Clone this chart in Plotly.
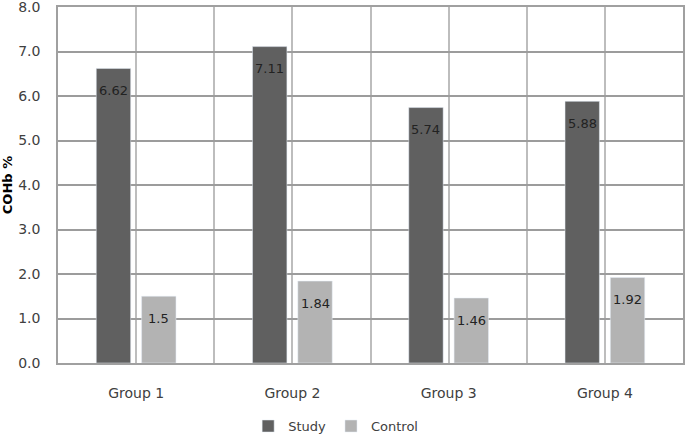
import plotly.graph_objects as go

groups = ["Group 1", "Group 2", "Group 3", "Group 4"]
study = [6.62, 7.11, 5.74, 5.88]
control = [1.5, 1.84, 1.46, 1.92]

bar_w = 0.22
gap = 0.035
pos = list(range(len(groups)))

fig = go.Figure()
fig.add_trace(go.Bar(x=pos, y=study, name="Study", marker_color="#606060",
                     width=bar_w, offset=-(bar_w + gap)))
fig.add_trace(go.Bar(x=pos, y=control, name="Control", marker_color="#b3b3b3",
                     width=bar_w, offset=gap))

# value labels, sitting a little below the top of each bar
for vals, off in [(study, -(bar_w + gap)), (control, gap)]:
    for i, v in enumerate(vals):
        fig.add_annotation(x=i + off + bar_w / 2, y=v, text=str(v), showarrow=False,
                           yshift=-22, font=dict(family="DejaVu Sans", size=13, color="#222222"))

fig.update_layout(
    width=685, height=437,
    margin=dict(l=58, r=2, t=7, b=74, autoexpand=False),
    plot_bgcolor="white", paper_bgcolor="white",
    font=dict(family="DejaVu Sans", size=13, color="#404040"),
    barmode="overlay",
    showlegend=True,
    legend=dict(orientation="h", xref="container", x=0.49, xanchor="center",
                yref="container", y=0.025, yanchor="middle",
                font=dict(size=13, color="#404040"), itemwidth=30),
)
fig.update_xaxes(
    range=[-0.5, 3.5], tickvals=pos, ticktext=groups,
    tickfont=dict(size=14),
    showgrid=True, gridcolor="#bdbdbd", gridwidth=1.5,
    minor=dict(tick0=-0.5, dtick=1, showgrid=True, gridcolor="#bdbdbd", gridwidth=1.5),
    showline=True, linecolor="#a0a0a0", linewidth=1.5, mirror=True,
    ticks="", ticklabelstandoff=16, zeroline=False, automargin=False,
)
fig.update_yaxes(
    range=[0, 8], dtick=1, tickformat=".1f",
    tickfont=dict(size=14), ticklabeloverflow="allow",
    showgrid=True, gridcolor="#9c9c9c", gridwidth=1.5,
    showline=True, linecolor="#a0a0a0", linewidth=1.5, mirror=True,
    zeroline=False, ticks="", ticklabelstandoff=13, automargin=False,
    title=dict(text="<b>COHb %</b>", font=dict(size=13, color="#000000"), standoff=8),
)

# drop the default 8px body margin so the figure fills the window
fig.write_html("out.html", config={"displayModeBar": False},
               post_script="document.body.style.margin='0';")
